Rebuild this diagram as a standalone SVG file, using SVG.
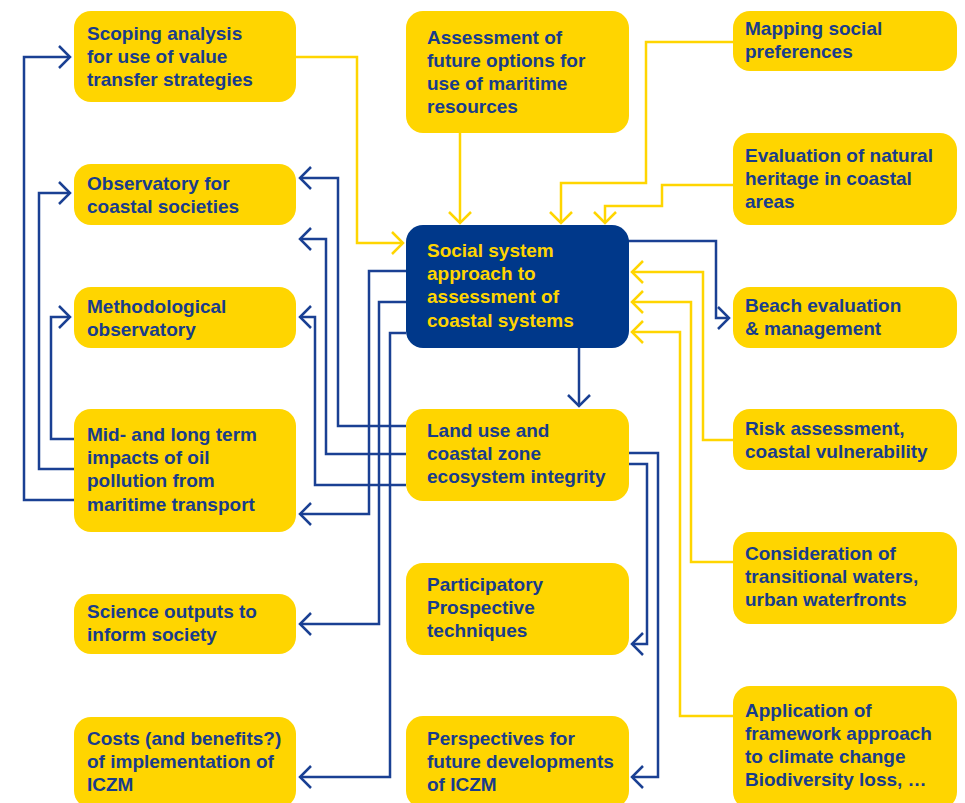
<svg xmlns="http://www.w3.org/2000/svg" width="965" height="803" viewBox="0 0 965 803">
  <defs>
    <style>
      .box { fill: #FFD500; }
      .core { fill: #00388A; }
      .t { font-family: "Liberation Sans", Arial, sans-serif; font-weight: bold; font-size: 19px; fill: #183C8C; }
      .tc { font-family: "Liberation Sans", Arial, sans-serif; font-weight: bold; font-size: 19px; fill: #FFD500; }
      .cy { fill: none; stroke: #FFD500; stroke-width: 2.5; }
      .cb { fill: none; stroke: #1A4093; stroke-width: 2.5; }
    </style>
    <marker id="ay" markerUnits="userSpaceOnUse" markerWidth="14" markerHeight="24" refX="11" refY="12" orient="auto" overflow="visible">
      <path d="M0,1 L11,12 L0,23" fill="none" stroke="#FFD500" stroke-width="2.5"/>
    </marker>
    <marker id="ab" markerUnits="userSpaceOnUse" markerWidth="14" markerHeight="24" refX="11" refY="12" orient="auto" overflow="visible">
      <path d="M0,1 L11,12 L0,23" fill="none" stroke="#1A4093" stroke-width="2.5"/>
    </marker>
  </defs>
  <rect width="965" height="803" fill="#FFFFFF"/>

  <g id="connectors">
    <!-- yellow: inputs to social system box -->
    <path class="cy" marker-end="url(#ay)" d="M296,57 H357 V243 H403"/>
    <path class="cy" marker-end="url(#ay)" d="M460,133 V223"/>
    <path class="cy" marker-end="url(#ay)" d="M733,42 H646 V183 H561 V223"/>
    <path class="cy" marker-end="url(#ay)" d="M733,185 H662 V206 H605 V223"/>
    <path class="cy" marker-end="url(#ay)" d="M733,440 H703 V272 H632"/>
    <path class="cy" marker-end="url(#ay)" d="M733,562 H691 V302 H632"/>
    <path class="cy" marker-end="url(#ay)" d="M733,716 H680 V332 H632"/>
    <!-- blue -->
    <path class="cb" marker-end="url(#ab)" d="M628,241 H716 V318 H729"/>
    <path class="cb" marker-end="url(#ab)" d="M579,348 V406"/>
    <path class="cb" marker-end="url(#ab)" d="M629,453 H658 V777 H632"/>
    <path class="cb" marker-end="url(#ab)" d="M629,464 H647 V644 H632"/>
    <path class="cb" marker-end="url(#ab)" d="M406,271 H369 V514 H300"/>
    <path class="cb" marker-end="url(#ab)" d="M406,302 H379 V624 H300"/>
    <path class="cb" marker-end="url(#ab)" d="M406,333 H390 V777 H300"/>
    <path class="cb" marker-end="url(#ab)" d="M406,426 H338 V178 H300"/>
    <path class="cb" marker-end="url(#ab)" d="M406,454 H326 V239 H300"/>
    <path class="cb" marker-end="url(#ab)" d="M406,485 H315 V317 H300"/>
    <path class="cb" marker-end="url(#ab)" d="M74,439 H51 V317 H70"/>
    <path class="cb" marker-end="url(#ab)" d="M74,469 H39 V193 H70"/>
    <path class="cb" marker-end="url(#ab)" d="M74,500 H24 V57 H70"/>
  </g>

  <g id="scoping">
    <rect class="box" x="74" y="11" width="222" height="91" rx="17"/>
    <text class="t" x="87" y="39.5"><tspan x="87">Scoping analysis</tspan><tspan x="87" dy="23.2">for use of value</tspan><tspan x="87" dy="23.2">transfer strategies</tspan></text>
  </g>
  <g id="observatory">
    <rect class="box" x="74" y="164" width="222" height="61" rx="17"/>
    <text class="t" x="87" y="189.5"><tspan x="87">Observatory for</tspan><tspan x="87" dy="23.2">coastal societies</tspan></text>
  </g>
  <g id="methodological">
    <rect class="box" x="74" y="287" width="222" height="61" rx="17"/>
    <text class="t" x="87" y="312.5"><tspan x="87">Methodological</tspan><tspan x="87" dy="23.2">observatory</tspan></text>
  </g>
  <g id="oil-pollution">
    <rect class="box" x="74" y="409" width="222" height="123" rx="17"/>
    <text class="t" x="87" y="441"><tspan x="87">Mid- and long term</tspan><tspan x="87" dy="23.2">impacts of oil</tspan><tspan x="87" dy="23.2">pollution from</tspan><tspan x="87" dy="23.2">maritime transport</tspan></text>
  </g>
  <g id="science-outputs">
    <rect class="box" x="74" y="594" width="222" height="60" rx="17"/>
    <text class="t" x="87" y="618"><tspan x="87">Science outputs to</tspan><tspan x="87" dy="23.2">inform society</tspan></text>
  </g>
  <g id="costs">
    <rect class="box" x="74" y="717" width="222" height="91" rx="17"/>
    <text class="t" x="87" y="745"><tspan x="87">Costs (and benefits?)</tspan><tspan x="87" dy="23.2">of implementation of</tspan><tspan x="87" dy="23.2">ICZM</tspan></text>
  </g>

  <g id="future-options">
    <rect class="box" x="406" y="11" width="223" height="122" rx="17"/>
    <text class="t" x="427" y="43.5"><tspan x="427">Assessment of</tspan><tspan x="427" dy="23.2">future options for</tspan><tspan x="427" dy="23.2">use of maritime</tspan><tspan x="427" dy="23.2">resources</tspan></text>
  </g>
  <g id="social-system">
    <rect class="core" x="406" y="225" width="223" height="123" rx="17"/>
    <text class="tc" x="427" y="257"><tspan x="427">Social system</tspan><tspan x="427" dy="23.2">approach to</tspan><tspan x="427" dy="23.2">assessment of</tspan><tspan x="427" dy="23.2">coastal systems</tspan></text>
  </g>
  <g id="land-use">
    <rect class="box" x="406" y="409" width="223" height="92" rx="17"/>
    <text class="t" x="427" y="437"><tspan x="427">Land use and</tspan><tspan x="427" dy="23.2">coastal zone</tspan><tspan x="427" dy="23.2">ecosystem integrity</tspan></text>
  </g>
  <g id="participatory">
    <rect class="box" x="406" y="563" width="223" height="92" rx="17"/>
    <text class="t" x="427" y="591"><tspan x="427">Participatory</tspan><tspan x="427" dy="23.2">Prospective</tspan><tspan x="427" dy="23.2">techniques</tspan></text>
  </g>
  <g id="perspectives">
    <rect class="box" x="406" y="716" width="223" height="92" rx="17"/>
    <text class="t" x="427" y="745"><tspan x="427">Perspectives for</tspan><tspan x="427" dy="23.2">future developments</tspan><tspan x="427" dy="23.2">of ICZM</tspan></text>
  </g>

  <g id="mapping">
    <rect class="box" x="733" y="11" width="224" height="60" rx="17"/>
    <text class="t" x="745" y="34.5"><tspan x="745">Mapping social</tspan><tspan x="745" dy="23.2">preferences</tspan></text>
  </g>
  <g id="natural-heritage">
    <rect class="box" x="733" y="133" width="224" height="92" rx="17"/>
    <text class="t" x="745" y="162"><tspan x="745">Evaluation of natural</tspan><tspan x="745" dy="23.2">heritage in coastal</tspan><tspan x="745" dy="23.2">areas</tspan></text>
  </g>
  <g id="beach">
    <rect class="box" x="733" y="287" width="224" height="61" rx="17"/>
    <text class="t" x="745" y="311.5"><tspan x="745">Beach evaluation</tspan><tspan x="745" dy="23.2">&amp; management</tspan></text>
  </g>
  <g id="risk">
    <rect class="box" x="733" y="409" width="224" height="61" rx="17"/>
    <text class="t" x="745" y="434.5"><tspan x="745">Risk assessment,</tspan><tspan x="745" dy="23.2">coastal vulnerability</tspan></text>
  </g>
  <g id="transitional-waters">
    <rect class="box" x="733" y="532" width="224" height="92" rx="17"/>
    <text class="t" x="745" y="559.5"><tspan x="745">Consideration of</tspan><tspan x="745" dy="23.2">transitional waters,</tspan><tspan x="745" dy="23.2">urban waterfronts</tspan></text>
  </g>
  <g id="climate-change">
    <rect class="box" x="733" y="686" width="224" height="123" rx="17"/>
    <text class="t" x="745" y="716.5"><tspan x="745">Application of</tspan><tspan x="745" dy="23.2">framework approach</tspan><tspan x="745" dy="23.2">to climate change</tspan><tspan x="745" dy="23.2">Biodiversity loss, …</tspan></text>
  </g>
</svg>
